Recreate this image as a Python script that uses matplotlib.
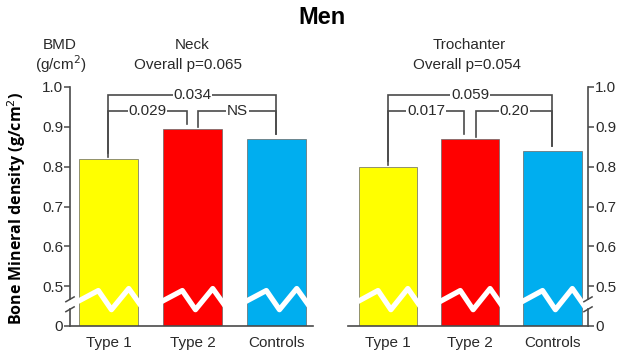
import matplotlib
matplotlib.use("Agg")
import matplotlib.pyplot as plt
import matplotlib.transforms as mtransforms

# bone mineral density, g/cm^2
groups = ["Type 1", "Type 2", "Controls"]
neck_bmd = [0.82, 0.895, 0.87]
trochanter_bmd = [0.80, 0.87, 0.84]
colors = ["#FFFF00", "#FF0000", "#00AEEF"]

# pairwise p-values: (bar a, bar b, label)
neck_pairs = [(0, 2, "0.034"), (0, 1, "0.029"), (1, 2, "NS")]
trochanter_pairs = [(0, 2, "0.059"), (0, 1, "0.017"), (1, 2, "0.20")]
neck_overall = "Overall p=0.065"
trochanter_overall = "Overall p=0.054"

tick_values = [0, 0.5, 0.6, 0.7, 0.8, 0.9, 1.0]
tick_labels = ["0", "0.5", "0.6", "0.7", "0.8", "0.9", "1.0"]

# the axis is broken between 0 and 0.5: zero sits one step below 0.5
ZERO = 0.4
INK = "#2a2a2a"
LINE = "#4a4a4a"
FONT = "Liberation Sans"
FS = 11

W, H = 622, 351
fig = plt.figure(figsize=(W / 100, H / 100), dpi=100)


def axis_pos(v):
    return ZERO if v == 0 else v


def draw_panel(ax, values, pairs, side):
    x = range(len(values))
    ax.bar(x, [v - ZERO for v in values], bottom=ZERO, width=0.71,
           color=colors, edgecolor="#666666", linewidth=0.5, zorder=2)

    # white zigzag across each bar marks the break
    zig_fx = [-0.06, 0.33, 0.55, 0.84, 1.04]
    zig_y = [0.458, 0.489, 0.441, 0.494, 0.452]
    for i in x:
        x0 = i - 0.355
        ax.plot([x0 + f * 0.71 for f in zig_fx], zig_y, color="white",
                lw=3.8, solid_joinstyle="round", zorder=3, clip_on=False)

    ax.set_ylim(ZERO, 1.0)
    ax.set_yticks([axis_pos(v) for v in tick_values])
    ax.set_yticklabels(tick_labels, fontsize=FS, color=INK, family=FONT)
    ax.set_xticks(list(x))
    ax.set_xticklabels(groups, fontsize=FS, color=INK, family=FONT)
    ax.tick_params(axis="x", length=0, pad=7)
    ax.tick_params(axis="y", length=4, width=1.1, color=LINE, pad=1)

    for s in ["top", "left", "right"]:
        ax.spines[s].set_visible(False)
    ax.spines["bottom"].set_color(LINE)
    ax.spines["bottom"].set_linewidth(1.2)

    sp = ax.spines[side]
    sp.set_visible(True)
    sp.set_color(LINE)
    sp.set_linewidth(1.2)
    sp.set_bounds(0.467, 1.0)
    if side == "right":
        ax.yaxis.tick_right()
    else:
        ax.yaxis.tick_left()

    # lower stub of the broken axis plus the two slashes
    sx = 1.0 if side == "right" else 0.0
    tr = mtransforms.blended_transform_factory(ax.transAxes, ax.transData)
    ax.plot([sx, sx], [ZERO, 0.442], color=LINE, lw=1.2, transform=tr,
            clip_on=False, zorder=4)
    dx = 0.017
    for yb in (0.442, 0.467):
        ax.plot([sx - dx, sx + dx], [yb - 0.006, yb + 0.006], color=LINE,
                lw=1.1, transform=tr, clip_on=False, zorder=4)

    # significance brackets
    for a, b, label in pairs:
        wide = (b - a) == 2
        level = 0.981 if wide else 0.941
        xa = a + (0.07 if (not wide and a == 1) else 0.0)
        xb = b - (0.07 if (not wide and b == 1) else 0.0)
        ya = values[a] + (0.015 if wide else 0.005)
        yb = values[b] + 0.012
        ax.plot([xa, xa, xb, xb], [ya, level, level, yb], color=LINE,
                lw=1.2, zorder=4, solid_joinstyle="miter")
        ax.text((xa + xb) / 2, level, label, ha="center", va="center",
                fontsize=FS, color=INK, family=FONT, zorder=5,
                bbox=dict(boxstyle="square,pad=0.05", fc="white", ec="none"))


ax1 = fig.add_axes([70 / W, 1 - 326 / H, 243 / W, 239 / H])
ax1.set_xlim(-0.458, 2.435)
draw_panel(ax1, neck_bmd, neck_pairs, "left")

ax2 = fig.add_axes([348 / W, 1 - 326 / H, 240 / W, 239 / H])
ax2.set_xlim(-0.486, 2.432)
draw_panel(ax2, trochanter_bmd, trochanter_pairs, "right")


def ftext(px, py, s, **kw):
    fig.text(px / W, 1 - py / H, s, ha="center", va="center", **kw)


ftext(322, 18, "Men", fontsize=17, fontweight="bold", family=FONT, color="black")
ftext(192, 45, "Neck", fontsize=FS, family=FONT, color=INK)
ftext(188, 65, neck_overall, fontsize=FS, family=FONT, color=INK)
ftext(469, 45, "Trochanter", fontsize=FS, family=FONT, color=INK)
ftext(467, 65, trochanter_overall, fontsize=FS, family=FONT, color=INK)
ftext(60, 45, "BMD", fontsize=FS, family=FONT, color=INK)
ftext(61, 64, "(g/cm$^2$)", fontsize=FS, family=FONT, color=INK)
ftext(17, 208, "Bone Mineral density (g/cm$^2$)", fontsize=11.5,
      fontweight="bold", family="Open Sans", color="black", rotation=90)

fig.savefig("out.png", dpi=100)
